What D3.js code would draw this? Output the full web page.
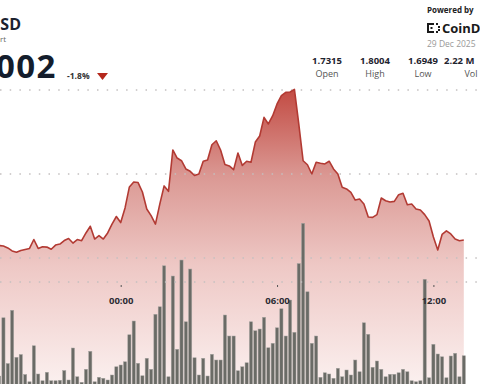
<!DOCTYPE html>
<html>
<head>
<meta charset="utf-8">
<script src="https://cdn.jsdelivr.net/npm/d3@7"></script>
<style>
  html, body { margin: 0; padding: 0; background: #fff; }
  svg { display: block; font-family: "Open Sans", "Noto Sans", sans-serif; }
</style>
</head>
<body>
<svg id="chart" width="480" height="384"></svg>
<script>
var width = 480,
height = 384;

// 10 minute candles, 28 Dec 19:20 -> 29 Dec 13:10
var start = new Date(2025, 11, 28, 19, 20),
end = new Date(2025, 11, 29, 13, 11);
var times = d3.timeMinute.every(10).range(start, end);

var closes = [
  1.7074, 1.7071, 1.7060, 1.7042, 1.7034, 1.7045, 1.7051, 1.7057, 1.7110, 1.7057,
  1.7067, 1.7065, 1.7052, 1.7077, 1.7083, 1.7104, 1.7116, 1.7089, 1.7110, 1.7103,
  1.7149, 1.7189, 1.7113, 1.7133, 1.7113, 1.7149, 1.7202, 1.7247,
  1.7211, 1.7298, 1.7423, 1.7452, 1.7449, 1.7393, 1.7292, 1.7252, 1.7202, 1.7321,
  1.7429, 1.7397, 1.7643, 1.7595, 1.7579, 1.7530, 1.7516, 1.7491, 1.7500, 1.7576,
  1.7583, 1.7674, 1.7698, 1.7643, 1.7557, 1.7548, 1.7526, 1.7625, 1.7551, 1.7576,
  1.7570, 1.7690, 1.7726, 1.7837, 1.7798, 1.7847, 1.7917, 1.7967, 1.7986, 1.7988,
  1.8004, 1.7798, 1.7579, 1.7555, 1.7500, 1.7570, 1.7564, 1.7560, 1.7576, 1.7530,
  1.7500, 1.7421, 1.7411, 1.7391, 1.7345, 1.7351, 1.7321, 1.7244, 1.7242, 1.7258,
  1.7357, 1.7341, 1.7333, 1.7337, 1.7377, 1.7385, 1.7317, 1.7321, 1.7292, 1.7286,
  1.7258, 1.7220, 1.7125, 1.7048, 1.7140, 1.7162, 1.7143, 1.7113, 1.7103, 1.7107,
  1.7070, 1.7073, 1.7064, 1.7062
];

// volume, thousands
var volumes = [
  32, 265, 82, 295, 107, 118, 38, 9, 153, 40,
  13, 47, 13, 13, 15, 54, 16, 144, 29, 7,
  59, 131, 9, 27, 23, 16, 36, 69,
  76, 89, 197, 252, 83, 33, 103, 59, 279, 309,
  473, 29, 432, 139, 496, 249, 460, 105, 36, 103,
  32, 119, 96, 96, 276, 192, 192, 53, 69, 85,
  249, 213, 220, 267, 145, 163, 225, 301, 192, 336,
  207, 482, 643, 369, 163, 192, 27, 45, 40, 23,
  63, 29, 56, 36, 96, 49, 245, 199, 67, 92,
  59, 29, 39, 39, 45, 59, 49, 13, 9, 13,
  419, 25, 159, 120, 109, 25, 112, 123, 29, 113,
  19, 16, 19, 193
];

var priceGrid = [1.70, 1.75, 1.80];
var tickTimes = [new Date(2025, 11, 29, 0, 0), new Date(2025, 11, 29, 6, 0), new Date(2025, 11, 29, 12, 0)];

var stats = [
  {label: "Open", value: "1.7315"},
  {label: "High", value: "1.8004"},
  {label: "Low", value: "1.6949"},
  {label: "Vol", value: "2.22 M"}
];

var data = times.map(function (t, i) {
  return {time: t, close: closes[i], vol: volumes[i]};
});

var svg = d3.select("#chart");

var x = d3.scaleTime()
.domain([tickTimes[0], tickTimes[2]])
.range([120.7, 433.4]);

var y = d3.scaleLinear()
.domain([1.70, 1.80])
.range([258, 90]);

var yVol = d3.scaleLinear()
.domain([0, 643])
.range([384, 223.3]);

// gradient under the price line
var grad = svg.append("defs").append("linearGradient")
.attr("id", "areaFill")
.attr("gradientUnits", "userSpaceOnUse")
.attr("x1", 0).attr("x2", 0)
.attr("y1", 88).attr("y2", 384);
grad.append("stop").attr("offset", "0%").attr("stop-color", "#c24a42");
grad.append("stop").attr("offset", "30%").attr("stop-color", "#db9994");
grad.append("stop").attr("offset", "60%").attr("stop-color", "#eec8c5");
grad.append("stop").attr("offset", "100%").attr("stop-color", "#fbf0ef");

var area = d3.area()
.x(function (d) { return x(d.time); })
.y0(height)
.y1(function (d) { return y(d.close); });

var line = d3.line()
.x(function (d) { return x(d.time); })
.y(function (d) { return y(d.close); });

svg.append("path")
.datum(data)
.attr("d", area)
.style("fill", "url(#areaFill)");

// dotted grid
svg.append("g")
.selectAll("line")
.data(priceGrid)
.enter().append("line")
.attr("x1", 0)
.attr("x2", width)
.attr("y1", function (d) { return y(d); })
.attr("y2", function (d) { return y(d); })
.style("stroke", "#c4c0c0")
.style("stroke-width", 1.5)
.style("stroke-dasharray", "1.5,8.2");

// volume bars
var bw = 3.2;
svg.append("g")
.selectAll("rect")
.data(data)
.enter().append("rect")
.attr("x", function (d) { return x(d.time) - bw / 2; })
.attr("y", function (d) { return yVol(d.vol); })
.attr("width", bw)
.attr("height", function (d) { return height - yVol(d.vol) + 2; })
.style("fill", "#6a6b66")
.style("stroke", "#a8a5a2")
.style("stroke-width", 0.5);

svg.append("path")
.datum(data)
.attr("d", line)
.style("fill", "none")
.style("stroke", "#b23a33")
.style("stroke-width", 1.6)
.style("stroke-linejoin", "round");

// time axis
var xAxis = d3.axisBottom(x)
.tickValues(tickTimes)
.tickFormat(d3.timeFormat("%H:%M"))
.tickSize(3)
.tickPadding(12);

var gx = svg.append("g")
.attr("transform", "translate(0,282)")
.call(xAxis);
gx.select(".domain")
.attr("d", "M0,0H" + width)
.style("stroke", "#c4c0c0")
.style("stroke-width", 1.5)
.style("stroke-dasharray", "1.5,8.2");
gx.selectAll(".tick line")
.attr("y1", 3)
.attr("y2", 5)
.style("stroke", "#555");
gx.selectAll(".tick text")
.style("font-family", "'Open Sans', sans-serif")
.style("font-size", "9.5px")
.style("font-weight", "700")
.style("fill", "#2c2c34");

// header (left part of it is cropped away in the original)
svg.append("text")
.attr("x", 21).attr("y", 30)
.attr("text-anchor", "end")
.style("font-size", "16px").style("font-weight", "700").style("fill", "#1b2230")
.text("USD");

svg.append("text")
.attr("x", 6).attr("y", 42)
.attr("text-anchor", "end")
.style("font-size", "8px").style("fill", "#666")
.text("Chart");

svg.append("text")
.attr("x", 57).attr("y", 78)
.attr("text-anchor", "end")
.style("font-size", "33px").style("font-weight", "700").style("fill", "#141d2c")
.style("letter-spacing", "1.5px")
.text("1.7002");

svg.append("text")
.attr("x", 67).attr("y", 79)
.style("font-size", "8.5px").style("font-weight", "700").style("fill", "#333")
.text("-1.8%");

svg.append("path")
.attr("d", "M97,73L108,73L102.5,80Z")
.style("fill", "#b5281c");

var cols = svg.append("g")
.selectAll("g")
.data(stats)
.enter().append("g")
.attr("transform", function (d, i) { return "translate(" + (327 + i * 48) + ",0)"; });

cols.append("text")
.attr("y", 64)
.attr("text-anchor", function (d, i) { return i == 3 ? "start" : "middle"; })
.attr("x", function (d, i) { return i == 3 ? -27 : 0; })
.style("font-size", "9.5px").style("font-weight", "700").style("fill", "#1f2430")
.text(function (d) { return d.value; });

cols.append("text")
.attr("y", 77)
.attr("text-anchor", "middle")
.style("font-size", "9px").style("fill", "#555")
.text(function (d) { return d.label; });

svg.append("text")
.attr("x", 427).attr("y", 13)
.style("font-size", "8px").style("font-weight", "700").style("fill", "#222")
.text("Powered by");

// coindesk mark
var logo = svg.append("g").attr("transform", "translate(427,23)").style("fill", "#1a1a1a");
logo.append("rect").attr("x", 0).attr("y", 0).attr("width", 2).attr("height", 10);
logo.append("rect").attr("x", 0).attr("y", 0).attr("width", 7).attr("height", 2);
logo.append("rect").attr("x", 0).attr("y", 8).attr("width", 7).attr("height", 2);
logo.append("rect").attr("x", 3.5).attr("y", 4).attr("width", 2).attr("height", 2);
logo.append("rect").attr("x", 9).attr("y", 0).attr("width", 2).attr("height", 2);
logo.append("rect").attr("x", 11).attr("y", 3).attr("width", 2).attr("height", 2);
logo.append("rect").attr("x", 11).attr("y", 6).attr("width", 2).attr("height", 2);
logo.append("rect").attr("x", 9).attr("y", 8).attr("width", 2).attr("height", 2);

svg.append("text")
.attr("x", 442).attr("y", 33)
.style("font-size", "13px").style("font-weight", "700").style("fill", "#1a1a1a")
.text("CoinDesk");

svg.append("text")
.attr("x", 427).attr("y", 47)
.style("font-size", "8.5px").style("fill", "#999")
.text("29 Dec 2025");
</script>
</body>
</html>
